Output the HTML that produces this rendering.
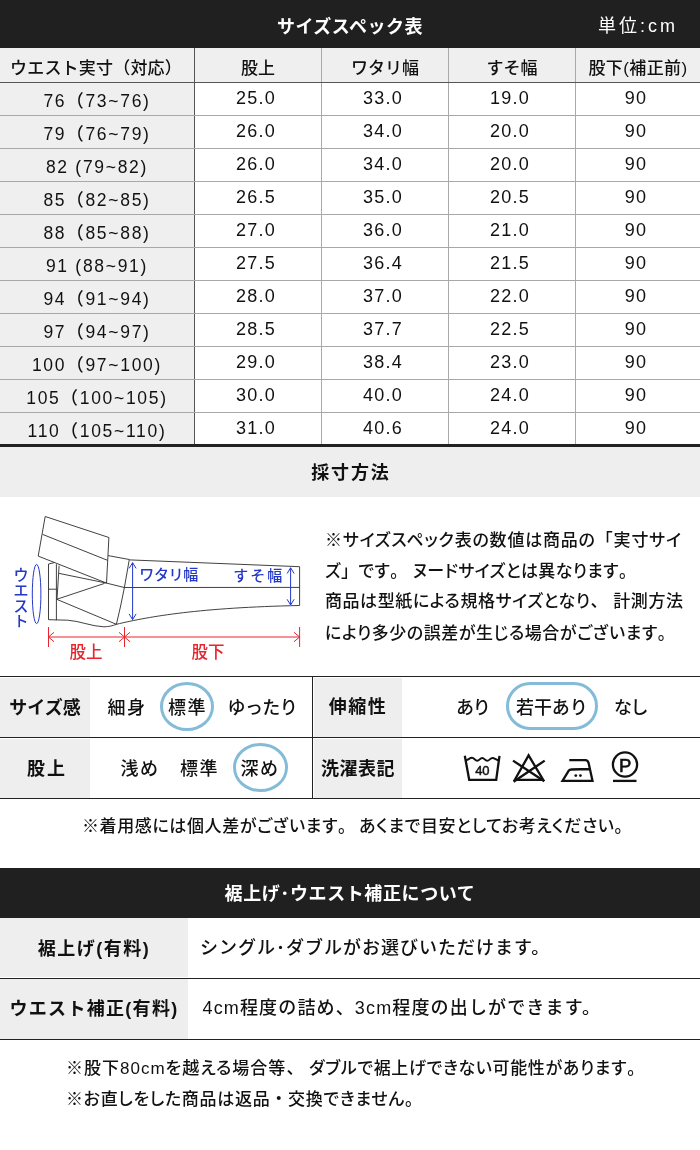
<!DOCTYPE html>
<html lang="ja">
<head>
<meta charset="utf-8">
<title>サイズスペック表</title>
<style>
html,body{margin:0;padding:0;}
body{width:700px;height:1150px;position:relative;overflow:hidden;background:#fff;color:#111;font-weight:500;
  font-family:"Liberation Sans","Noto Sans CJK JP",sans-serif;}
.abs{position:absolute;}
.bar{position:absolute;left:0;width:700px;background:#202020;color:#fff;font-weight:bold;text-align:center;}
#bar1{top:0;height:48px;line-height:54px;font-size:18px;letter-spacing:0.5px;}
#unit{position:absolute;right:22px;top:0;line-height:52px;font-size:18px;font-weight:normal;letter-spacing:3px;}
/* size table */
#tbl{position:absolute;left:0;top:48px;width:700px;}
.tr{position:relative;height:33px;width:700px;box-sizing:border-box;border-bottom:1px solid #a8a8a8;background:#fff;}
.tr.hd{background:#efefef;height:35px;border-bottom:1px solid #555;}
.c{position:absolute;top:0;height:32px;line-height:30px;text-align:center;font-size:18px;box-sizing:border-box;white-space:nowrap;}
.c b{display:inline-block;font-weight:500;letter-spacing:1.2px;position:relative;left:-2px;}
.c1 b{letter-spacing:1.7px;left:0;}
.c1{left:0;width:194px;background:#efefef;line-height:36px;font-size:17.5px;}
.c2{left:194px;width:127px;border-left:1px solid #555;}
.c3{left:321px;width:127px;border-left:1px solid #aaa;}
.c4{left:448px;width:127px;border-left:1px solid #aaa;}
.c5{left:575px;width:125px;border-left:1px solid #aaa;}
.hd .c{font-size:17px;height:34px;line-height:41px;letter-spacing:0;}
.hd .c5{letter-spacing:0.4px;}
.hd .c1{letter-spacing:0.2px;text-indent:-2px;}
#tblend{position:absolute;left:0;top:444px;width:700px;height:3px;background:#222;}
/* measuring */
#bar2{position:absolute;left:0;top:447px;width:700px;height:50px;line-height:52px;background:#eee;text-align:center;font-weight:bold;font-size:18px;letter-spacing:1.8px;text-indent:1.8px;color:#111;}
#dia{position:absolute;left:0;top:497px;width:320px;height:180px;}
.pl{font-feature-settings:"palt";}
.pl i{font-style:normal;font-feature-settings:normal;}
.ml{position:absolute;left:325px;height:31px;line-height:31px;font-size:17px;white-space:nowrap;}
.jl{width:355px;text-align:justify;text-align-last:justify;text-justify:inter-character;}
/* feature table */
.hl{position:absolute;left:0;width:700px;height:1px;background:#222;}
.lab{position:absolute;background:#eee;font-weight:bold;font-size:18px;text-align:center;color:#111;}
.opt{position:absolute;font-size:18px;white-space:nowrap;letter-spacing:1.5px;}
.ring{position:absolute;box-sizing:border-box;border:3px solid #84bbd9;border-radius:50%;}
.nt{position:absolute;font-size:17px;line-height:30px;white-space:nowrap;}
#bar3{top:868px;height:50px;line-height:52px;font-size:18px;letter-spacing:0.6px;}
.lab2{position:absolute;left:0;width:188px;background:#eee;font-weight:bold;font-size:18px;text-align:center;color:#111;letter-spacing:1.5px;white-space:nowrap;}
.val2{position:absolute;left:200px;font-size:18px;white-space:nowrap;letter-spacing:1px;}
.note2{position:absolute;left:66px;font-size:17px;white-space:nowrap;line-height:30px;}
</style>
</head>
<body>
<div class="bar" id="bar1">サイズスペック表<span id="unit">単位:cm</span></div>
<div id="tbl">
<div class="tr hd"><div class="c c1">ウエスト実寸（対応）</div><div class="c c2">股上</div><div class="c c3">ワタリ幅</div><div class="c c4">すそ幅</div><div class="c c5">股下(補正前)</div></div>
<div class="tr"><div class="c c1"><b>76（73~76)</b></div><div class="c c2"><b>25.0</b></div><div class="c c3"><b>33.0</b></div><div class="c c4"><b>19.0</b></div><div class="c c5"><b>90</b></div></div>
<div class="tr"><div class="c c1"><b>79（76~79)</b></div><div class="c c2"><b>26.0</b></div><div class="c c3"><b>34.0</b></div><div class="c c4"><b>20.0</b></div><div class="c c5"><b>90</b></div></div>
<div class="tr"><div class="c c1"><b>82 (79~82)</b></div><div class="c c2"><b>26.0</b></div><div class="c c3"><b>34.0</b></div><div class="c c4"><b>20.0</b></div><div class="c c5"><b>90</b></div></div>
<div class="tr"><div class="c c1"><b>85（82~85)</b></div><div class="c c2"><b>26.5</b></div><div class="c c3"><b>35.0</b></div><div class="c c4"><b>20.5</b></div><div class="c c5"><b>90</b></div></div>
<div class="tr"><div class="c c1"><b>88（85~88)</b></div><div class="c c2"><b>27.0</b></div><div class="c c3"><b>36.0</b></div><div class="c c4"><b>21.0</b></div><div class="c c5"><b>90</b></div></div>
<div class="tr"><div class="c c1"><b>91 (88~91)</b></div><div class="c c2"><b>27.5</b></div><div class="c c3"><b>36.4</b></div><div class="c c4"><b>21.5</b></div><div class="c c5"><b>90</b></div></div>
<div class="tr"><div class="c c1"><b>94（91~94)</b></div><div class="c c2"><b>28.0</b></div><div class="c c3"><b>37.0</b></div><div class="c c4"><b>22.0</b></div><div class="c c5"><b>90</b></div></div>
<div class="tr"><div class="c c1"><b>97（94~97)</b></div><div class="c c2"><b>28.5</b></div><div class="c c3"><b>37.7</b></div><div class="c c4"><b>22.5</b></div><div class="c c5"><b>90</b></div></div>
<div class="tr"><div class="c c1"><b>100（97~100)</b></div><div class="c c2"><b>29.0</b></div><div class="c c3"><b>38.4</b></div><div class="c c4"><b>23.0</b></div><div class="c c5"><b>90</b></div></div>
<div class="tr"><div class="c c1"><b>105（100~105)</b></div><div class="c c2"><b>30.0</b></div><div class="c c3"><b>40.0</b></div><div class="c c4"><b>24.0</b></div><div class="c c5"><b>90</b></div></div>
<div class="tr"><div class="c c1"><b>110（105~110)</b></div><div class="c c2"><b>31.0</b></div><div class="c c3"><b>40.6</b></div><div class="c c4"><b>24.0</b></div><div class="c c5"><b>90</b></div></div>
</div>
<div id="tblend"></div>
<div id="bar2">採寸方法</div>
<svg id="dia" viewBox="0 497 320 180" width="320" height="180">
<g fill="none" stroke="#2b2b2b" stroke-width="0.9" stroke-linejoin="miter">
<path d="M45.2,516.5 L108.9,537.5 L106.5,583.1 L38.2,556.1 Z" fill="#fff"/>
<path d="M42.6,534.4 L107.5,560.3"/>
<path d="M108.1,555.6 L129.3,559.5 L124.3,588 L120.4,607 L116.4,624.3"/>
<path d="M106.5,583.1 L124.3,587.5 L299.6,587.4"/>
<path d="M129.5,559.9 L299.6,566.7 L299.6,605.5"/>
<path d="M116.4,624.3 C150,616.3 200,607.6 299.6,605.5"/>
<path d="M54.4,562.6 L48.5,564 L48.5,619.7 L67.7,620.2 C80,621 92,626.5 103.9,626.8 C109,626.8 113,625.6 116.4,624.3"/>
<path d="M56.4,564.2 L56.4,620.2"/>
<path d="M59.1,565.6 L57,599.3"/>
<path d="M48.5,589.2 L56.4,589.2"/>
<path d="M59.1,573.4 L106.5,583.1"/>
<path d="M56.7,599.3 L104.5,583.4"/>
<path d="M56.7,599.3 L116.4,624.3"/>
</g>
<g fill="none" stroke="#2438c8" stroke-width="1">
<ellipse cx="36.6" cy="594" rx="4.3" ry="29.6"/>
<path d="M132.6,562.7 L132.6,619.6 M129.1,568.4 L132.6,562.7 L136.1,568.4 M129.1,613.9 L132.6,619.6 L136.1,613.9"/>
<path d="M290.6,567.8 L290.6,605 M287.1,573.5 L290.6,567.8 L294.1,573.5 M287.1,599.3 L290.6,605 L294.1,599.3"/>
</g>
<g fill="#2438c8" font-family="'Liberation Sans','Noto Sans CJK JP',sans-serif" font-size="15">
<text x="139.3" y="580.3" textLength="59">ワタリ幅</text>
<text x="233.3" y="580.8" textLength="49">すそ幅</text>
</g>
<g fill="none" stroke="#e8242c" stroke-width="1">
<path d="M48.5,637 L299.6,637 M48.5,627 L48.5,647 M124.5,627 L124.5,647 M299.6,627 L299.6,647"/>
<path d="M54,632.3 L48.5,637 L54,641.7 M119,632.3 L124.5,637 L119,641.7 M130,632.3 L124.5,637 L130,641.7 M294,632.3 L299.6,637 L294,641.7"/>
</g>
<g fill="#e8242c" font-family="'Liberation Sans','Noto Sans CJK JP',sans-serif" font-size="16.5" text-anchor="middle">
<text x="86" y="657.5">股上</text>
<text x="208" y="657.5">股下</text>
</g>
</svg>
<div class="abs" style="left:10px;top:567px;width:18px;height:62px;line-height:18px;font-size:15.5px;color:#2438c8;writing-mode:vertical-rl;white-space:nowrap;letter-spacing:0;">ウエスト</div>

<div class="ml pl jl" style="top:525px;width:356px">※サイズスペック表の数値は商品の<i>「</i>実寸サイ</div>
<div class="ml pl" style="top:556px;letter-spacing:0.35px">ズ<i>」</i>です<i>。</i> ヌードサイズとは異なります<i>。</i></div>
<div class="ml pl jl" style="top:586px;width:358px">商品は型紙による規格サイズとなり<i>、</i> 計測方法</div>
<div class="ml pl" style="top:618px;letter-spacing:0.55px">により多少の誤差が生じる場合がございます<i>。</i></div>

<div class="hl" style="top:676px"></div>
<div class="hl" style="top:737px"></div>
<div class="hl" style="top:798px"></div>
<div class="abs" style="left:312px;top:676px;width:1px;height:122px;background:#222"></div>
<div class="lab" style="left:0;top:678px;width:90px;height:59px;line-height:61px;">サイズ感</div>
<div class="lab" style="left:0;top:739px;width:90px;height:58.5px;line-height:60px;letter-spacing:2px;text-indent:4px;">股上</div>
<div class="lab" style="left:314px;top:678px;width:88px;height:59px;line-height:59px;letter-spacing:1.5px;">伸縮性</div>
<div class="lab" style="left:314px;top:739px;width:88px;height:59px;line-height:61px;letter-spacing:0.5px;">洗濯表記</div>

<div class="ring" style="left:159.7px;top:682.3px;width:54px;height:48.3px;"></div>
<div class="ring" style="left:233.1px;top:743.3px;width:54.9px;height:48.3px;"></div>
<div class="ring" style="left:506px;top:682.3px;width:92px;height:48px;border-radius:24px;"></div>
<div class="opt" style="left:107.5px;top:677px;line-height:62px;">細身</div>
<div class="opt" style="left:168px;top:677px;line-height:62px;">標準</div>
<div class="opt" style="left:227.5px;top:677px;line-height:62px;letter-spacing:-0.6px;">ゆったり</div>
<div class="opt" style="left:120.5px;top:738px;line-height:62px;">浅め</div>
<div class="opt" style="left:180px;top:738px;line-height:62px;">標準</div>
<div class="opt" style="left:240.5px;top:738px;line-height:62px;">深め</div>
<div class="opt" style="left:456px;top:677px;line-height:62px;letter-spacing:-1.2px;">あり</div>
<div class="opt" style="left:516px;top:677px;line-height:62px;letter-spacing:-0.1px;">若干あり</div>
<div class="opt" style="left:614px;top:677px;line-height:62px;letter-spacing:-1.5px;">なし</div>
<svg class="abs" style="left:455px;top:742px" viewBox="455 742 200 50" width="200" height="50">
<g fill="none" stroke="#111" stroke-width="2.3" stroke-linejoin="miter" stroke-linecap="butt">
<path d="M464.8,755.8 L469.2,779.8 L496.2,779.8 L499.5,755.8"/>
<path d="M465.6,760.2 C467.8,760.2 469.6,757.8 472,757.8 C474.2,757.8 475,760.8 477.2,760.8 C479.4,760.8 480,757.9 482.2,757.9 C484.4,757.9 485,760.8 487.2,760.8 C489.4,760.8 490.2,757.9 492.4,757.9 C494.8,757.9 496.4,760.2 498.8,760.2" stroke-width="2"/>
<path d="M528.6,755.4 L514.8,779.8 L543.2,779.8 Z"/>
<path d="M513,760.6 L544.3,781.3 M544.7,760.6 L513.6,781.7"/>
<path d="M569.3,760.1 L585.3,760.1 Q588,760.1 588.6,763 L592.5,780.8 L562.5,780.8 L568.6,770.8 Q569.5,769.6 571.5,769.5 L590,769"/>
<circle cx="625" cy="764.5" r="12.1"/>
<path d="M613,780.9 L636.5,780.9"/>
</g>
<circle cx="575.8" cy="775.6" r="1.4" fill="#111"/><circle cx="580.4" cy="775.6" r="1.4" fill="#111"/>
<g fill="#111" stroke="#111" font-family="'Liberation Sans',sans-serif" text-anchor="middle">
<text x="482.2" y="775.4" font-size="13" stroke-width="0.45" letter-spacing="-0.2">40</text>
<text x="625.2" y="771.6" font-size="18.5" stroke-width="0.6">P</text>
</g>
</svg>

<div class="nt pl" style="left:82px;top:811.5px;letter-spacing:0.6px;">※着用感には個人差がございます<i>。</i></div>
<div class="nt pl" style="left:359px;top:811.5px;letter-spacing:0.6px;">あくまで目安としてお考えください<i>。</i></div>

<div class="bar" id="bar3">裾上げ･ウエスト補正について</div>
<div class="lab2" style="top:918px;height:59px;line-height:63px;">裾上げ(有料)</div>
<div class="lab2" style="top:979px;height:60px;line-height:61px;letter-spacing:1.3px;">ウエスト補正(有料)</div>
<div class="hl" style="top:978px"></div>
<div class="hl" style="top:1039px"></div>
<div class="val2" style="top:918px;line-height:60px;">シングル･ダブルがお選びいただけます。</div>
<div class="val2" style="top:979px;line-height:59px;left:202.5px;letter-spacing:1.15px;">4cm程度の詰め、3cm程度の出しができます。</div>
<div class="nt pl" style="left:66px;top:1053.5px;letter-spacing:1px;">※股下80cmを越える場合等<i>、</i></div>
<div class="nt pl" style="left:309px;top:1053.5px;letter-spacing:0.66px;">ダブルで裾上げできない可能性があります<i>。</i></div>
<div class="nt pl" style="left:66px;top:1085px;letter-spacing:0.7px;">※お直しをした商品は返品<i>・</i>交換できません<i>。</i></div>
</body>
</html>
